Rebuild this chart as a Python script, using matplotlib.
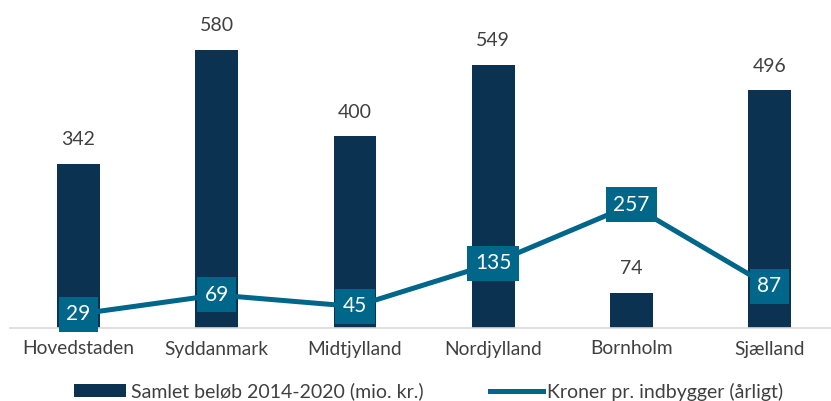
import matplotlib.pyplot as plt
import numpy as np

regions = ["Hovedstaden", "Syddanmark", "Midtjylland", "Nordjylland", "Bornholm", "Sjælland"]
samlet = [342, 580, 400, 549, 74, 496]
pr_indbygger = [29, 69, 45, 135, 257, 87]

bar_color = "#0B3250"
line_color = "#00668A"
text_color = "#404040"

plt.rcParams["font.family"] = ["Lato", "DejaVu Sans"]

fig = plt.figure(figsize=(8.31, 4.01), dpi=100)
ax = fig.add_axes([10 / 831, 73 / 401, 821 / 831, 318 / 401])

x = np.arange(len(regions))
bars = ax.bar(x, samlet, width=0.31, color=bar_color, zorder=2,
              label="Samlet beløb 2014-2020 (mio. kr.)")
line, = ax.plot(x, pr_indbygger, color=line_color, lw=3.6, zorder=3,
                label="Kroner pr. indbygger (årligt)")

for xi, v in zip(x, samlet):
    ax.text(xi, v + 33, str(v), ha="center", va="bottom",
            fontsize=14, color=text_color)

for xi, v in zip(x, pr_indbygger):
    ax.text(xi, v, str(v), ha="center", va="center", fontsize=15,
            color="white", zorder=4,
            bbox=dict(boxstyle="square,pad=0.36", fc=line_color, ec="none"))

ax.set_xlim(-0.496, 5.445)
ax.set_ylim(0, 664)
ax.set_xticks(x)
ax.set_xticklabels(regions, fontsize=13.8, color=text_color)
ax.tick_params(axis="x", length=0, pad=9)
ax.set_yticks([])
for s in ["top", "right", "left"]:
    ax.spines[s].set_visible(False)
ax.spines["bottom"].set_color("#D9D9D9")
ax.spines["bottom"].set_linewidth(1.2)

leg = ax.legend([bars, line], [bars.get_label(), line.get_label()],
                loc="center", bbox_to_anchor=(0.51, -0.2), ncol=2,
                frameon=False, fontsize=14, handlelength=2.7,
                handleheight=0.65, handletextpad=0.25, columnspacing=3.4)
for t in leg.get_texts():
    t.set_color(text_color)

fig.savefig("out.png", dpi=100)
